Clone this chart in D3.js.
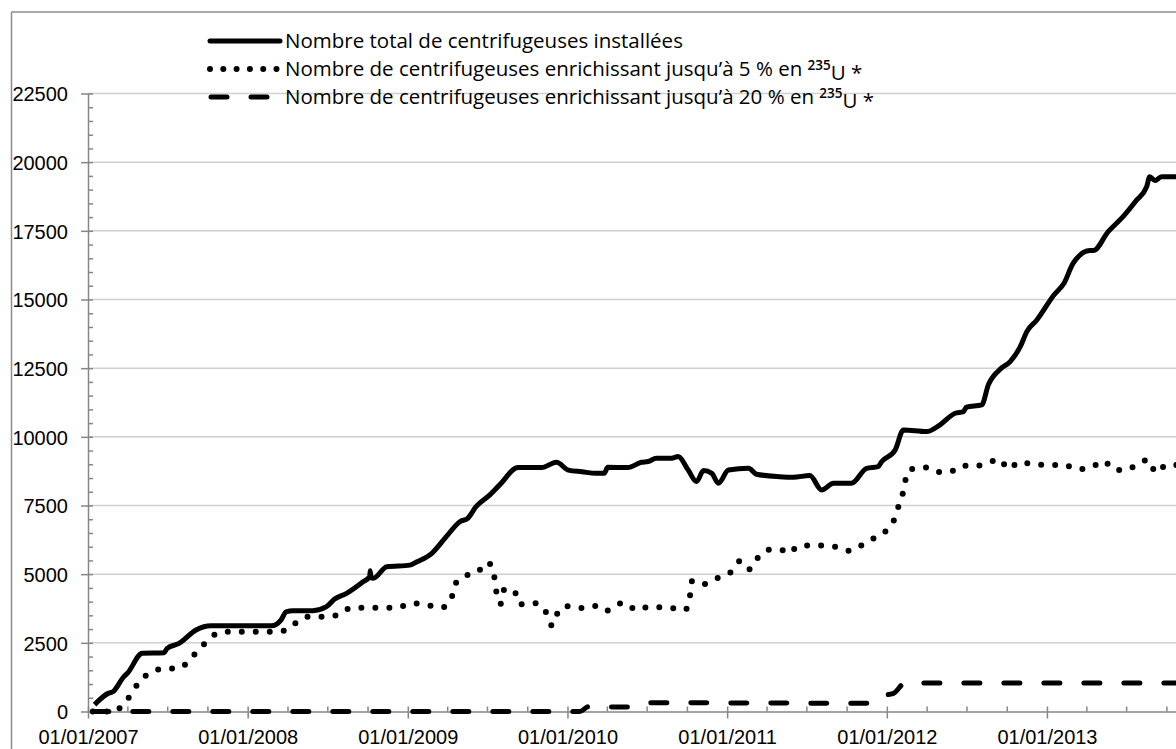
<!DOCTYPE html>
<html>
<head>
<meta charset="utf-8">
<script src="https://cdn.jsdelivr.net/npm/d3@7"></script>
<style>
  body { margin: 0; background: #fff; }
  svg { display: block; font-family: "Open Sans", Lato, sans-serif; }
  .axis text { font-size: 20px; fill: #000; }
  .axis path, .axis line { stroke: #868686; stroke-width: 1.5px; }
  .grid line { stroke: #d0d0d0; stroke-width: 1.5px; }
</style>
</head>
<body>
<div id="chart"></div>
<script>
  // total installed centrifuges
  var totalDates = ["2007-01-16","2007-02-16","2007-02-27","2007-03-24","2007-04-01","2007-05-05","2007-06-24","2007-07-01","2007-07-28","2007-09-05","2007-10-09","2008-02-24","2008-03-17","2008-03-29","2008-04-13","2008-05-29","2008-06-29","2008-07-17","2008-08-14","2008-09-21","2008-10-06","2008-10-07","2008-10-09","2008-10-14","2008-11-14","2009-01-06","2009-01-22","2009-02-25","2009-03-30","2009-04-30","2009-05-18","2009-06-06","2009-07-07","2009-07-30","2009-09-10","2009-11-03","2009-12-07","2010-01-03","2010-02-03","2010-03-07","2010-03-26","2010-04-03","2010-05-19","2010-06-19","2010-07-04","2010-07-23","2010-08-27","2010-09-11","2010-10-04","2010-10-23","2010-11-08","2010-11-27","2010-12-12","2011-01-04","2011-02-19","2011-03-09","2011-05-01","2011-06-01","2011-07-09","2011-08-05","2011-09-01","2011-10-12","2011-11-16","2011-12-12","2011-12-20","2012-01-20","2012-02-08","2012-04-01","2012-05-01","2012-06-05","2012-06-24","2012-07-01","2012-08-05","2012-08-20","2012-09-16","2012-10-09","2012-11-01","2012-11-16","2012-12-09","2013-01-17","2013-02-09","2013-03-02","2013-04-09","2013-04-17","2013-05-21","2013-06-24","2013-07-25","2013-08-17","2013-08-24","2013-09-05","2013-09-20","2013-11-01"];
  var totalValues = [250,660,720,1270,1390,2120,2140,2300,2480,2970,3120,3120,3330,3630,3670,3670,3815,4085,4300,4725,4910,5125,4880,4850,5270,5330,5450,5760,6365,6910,7035,7460,7880,8250,8880,8880,9075,8790,8730,8670,8670,8890,8880,9075,9100,9220,9220,9280,8790,8370,8770,8670,8310,8790,8855,8640,8550,8530,8590,8065,8310,8310,8855,8915,9095,9520,10250,10190,10430,10860,10920,11080,11160,11890,12460,12740,13280,13830,14255,15165,15590,16320,16780,16780,17470,18015,18620,19110,19470,19330,19470,19470];

  // enriching up to 5 %
  var lowDates = ["2007-01-12","2007-03-05","2007-03-20","2007-04-09","2007-04-28","2007-05-24","2007-06-26","2007-07-28","2007-08-26","2007-09-18","2007-10-13","2007-11-06","2008-02-20","2008-03-25","2008-04-19","2008-05-17","2008-06-21","2008-07-25","2008-08-25","2008-12-06","2009-01-10","2009-02-14","2009-03-18","2009-04-10","2009-04-17","2009-05-08","2009-06-08","2009-07-03","2009-07-17","2009-07-22","2009-08-01","2009-08-10","2009-09-01","2009-09-14","2009-10-18","2009-11-12","2009-11-27","2009-12-09","2009-12-22","2010-01-09","2010-02-07","2010-03-11","2010-04-01","2010-04-09","2010-05-10","2010-06-09","2010-07-06","2010-08-04","2010-08-29","2010-09-27","2010-10-08","2010-10-13","2010-11-08","2010-12-08","2011-01-08","2011-01-31","2011-02-21","2011-03-13","2011-04-13","2011-05-12","2011-05-29","2011-06-06","2011-07-04","2011-08-08","2011-09-04","2011-10-08","2011-11-03","2011-12-05","2012-01-01","2012-01-20","2012-01-30","2012-02-10","2012-02-16","2012-03-11","2012-04-06","2012-05-03","2012-06-05","2012-06-21","2012-07-24","2012-08-16","2012-09-16","2012-10-04","2012-11-01","2012-11-29","2013-01-04","2013-02-09","2013-03-11","2013-04-12","2013-05-10","2013-06-05","2013-07-01","2013-07-26","2013-08-21","2013-09-07","2013-10-02","2013-11-01"];
  var lowValues = [0,0,237,600,1085,1410,1570,1570,1970,2360,2750,2900,2900,2940,3210,3450,3450,3510,3780,3780,3940,3880,3780,4060,4570,4910,5055,5430,4960,4400,3915,4460,4400,3900,3940,3635,3125,3575,3815,3840,3760,3850,3670,3730,3960,3695,3815,3790,3760,3695,4215,4760,4640,4850,5055,5480,5180,5615,5905,5855,5780,5980,6040,6040,6000,5855,6040,6330,6610,7070,7600,8150,8695,8880,8880,8710,8790,8950,8940,9040,9180,8830,9095,9000,8975,8975,8820,8890,9120,8790,8790,9000,9160,8695,8975,8975];

  // enriching up to 20 %
  var highDates = ["2007-01-12","2010-01-29","2010-02-18","2010-05-01","2010-06-11","2010-07-12","2011-11-01","2011-11-16","2011-12-05","2012-01-16","2012-02-12","2013-11-01"];
  var highValues = [0,0,175,160,175,320,300,300,540,660,1040,1040];

  var yTicks = [0,2500,5000,7500,10000,12500,15000,17500,20000,22500];
  var xTicks = ["2007-01-01","2008-01-01","2009-01-01","2010-01-01","2011-01-01","2012-01-01","2013-01-01"];

  var legendLabels = [
    {text: "Nombre total de centrifugeuses installées", dash: null},
    {text: "Nombre de centrifugeuses enrichissant jusqu’à 5 % en ", dash: "0,13.3", sup: true},
    {text: "Nombre de centrifugeuses enrichissant jusqu’à 20 % en ", dash: "16,24", sup: true}
  ];

  var outerWidth = 1176,
      outerHeight = 749,
      margin = {top: 93.5, right: 0, bottom: 37.5, left: 88};

  var parse = d3.timeParse("%Y-%m-%d");
  var fmt = d3.timeFormat("%d/%m/%Y");

  var x = d3.scaleTime()
      .domain([parse("2007-01-01"), parse("2013-10-23")])
      .range([margin.left, outerWidth]);

  var y = d3.scaleLinear()
      .domain([0, 22500])
      .range([outerHeight - margin.bottom, margin.top]);

  var svg = d3.select("#chart").append("svg")
      .attr("width", outerWidth)
      .attr("height", outerHeight);

  svg.append("defs").append("clipPath")
      .attr("id", "clip")
    .append("rect")
      .attr("x", margin.left)
      .attr("y", 0)
      .attr("width", outerWidth - margin.left)
      .attr("height", y(0) + 6);

  // chart frame (right and bottom edges are cut off)
  svg.append("line")
      .attr("x1", 11.5).attr("x2", outerWidth)
      .attr("y1", 12).attr("y2", 12)
      .attr("stroke", "#8c8c8c").attr("stroke-width", 1.5);
  svg.append("line")
      .attr("x1", 11.5).attr("x2", 11.5)
      .attr("y1", 12).attr("y2", outerHeight)
      .attr("stroke", "#8c8c8c").attr("stroke-width", 1.5);

  svg.append("g")
      .attr("class", "grid")
    .selectAll("line")
    .data(yTicks.filter(d => d > 0))
    .enter().append("line")
      .attr("x1", margin.left)
      .attr("x2", outerWidth)
      .attr("y1", d => y(d))
      .attr("y2", d => y(d));

  // minor ticks
  svg.append("g")
      .attr("class", "axis")
      .attr("transform", "translate(" + margin.left + ",0)")
      .call(d3.axisLeft(y).tickValues(d3.range(0, 22501, 500)).tickSize(-5).tickFormat(""))
      .call(g => g.select(".domain").remove());

  svg.append("g")
      .attr("class", "axis")
      .attr("transform", "translate(0," + y(0) + ")")
      .call(d3.axisBottom(x).ticks(d3.timeMonth.every(3)).tickSize(-5).tickFormat(""))
      .call(g => g.select(".domain").remove());

  // major axes
  var yAxisG = svg.append("g")
      .attr("class", "axis")
      .attr("transform", "translate(" + margin.left + ",0)")
      .call(d3.axisLeft(y).tickValues(yTicks).tickSize(7).tickSizeOuter(0).tickPadding(13).tickFormat(d3.format("d")));
  yAxisG.selectAll("text").attr("dy", "0.36em");

  var xAxisG = svg.append("g")
      .attr("class", "axis")
      .attr("transform", "translate(0," + y(0) + ")")
      .call(d3.axisBottom(x).tickValues(xTicks.map(parse)).tickSize(7).tickSizeOuter(0).tickPadding(11).tickFormat(fmt));

  var plot = svg.append("g").attr("clip-path", "url(#clip)");

  var line = d3.line()
      .x(d => x(d.date))
      .y(d => y(d.value))
      .curve(d3.curveMonotoneX);

  function series(dates, values) {
    return dates.map((d, i) => ({date: parse(d), value: values[i]}));
  }

  plot.append("path")
      .datum(series(highDates, highValues))
      .attr("fill", "none")
      .attr("stroke", "#000")
      .attr("stroke-width", 5)
      .attr("stroke-linecap", "round")
      .attr("stroke-dasharray", "16,24")
      .attr("d", line);

  plot.append("path")
      .datum(series(lowDates, lowValues))
      .attr("fill", "none")
      .attr("stroke", "#000")
      .attr("stroke-width", 6)
      .attr("stroke-linecap", "round")
      .attr("stroke-dasharray", "0,14")
      .attr("d", line);

  plot.append("path")
      .datum(series(totalDates, totalValues))
      .attr("fill", "none")
      .attr("stroke", "#000")
      .attr("stroke-width", 5)
      .attr("stroke-linejoin", "round")
      .attr("d", line);

  // legend
  var legend = svg.append("g").attr("class", "legend");

  var rows = legend.selectAll("g")
      .data(legendLabels)
    .enter().append("g")
      .attr("transform", (d, i) => "translate(0," + (41 + i * 28) + ")");

  rows.append("line")
      .attr("x1", d => d.dash === "16,24" ? 211 : 210)
      .attr("x2", 280)
      .attr("stroke", "#000")
      .attr("stroke-width", d => d.dash === "0,13.3" ? 6 : 5)
      .attr("stroke-linecap", "round")
      .attr("stroke-dasharray", d => d.dash);

  var texts = rows.append("text")
      .attr("x", 285)
      .attr("dy", "0.36em")
      .style("font-size", "20.5px");

  texts.append("tspan").text(d => d.text);
  texts.filter(d => d.sup).append("tspan")
      .attr("dy", "-0.45em")
      .style("font-size", "13.5px")
      .style("font-weight", "600")
      .text("235");
  texts.filter(d => d.sup).append("tspan")
      .attr("dy", "0.45em")
      .text("U *");
</script>
</body>
</html>
